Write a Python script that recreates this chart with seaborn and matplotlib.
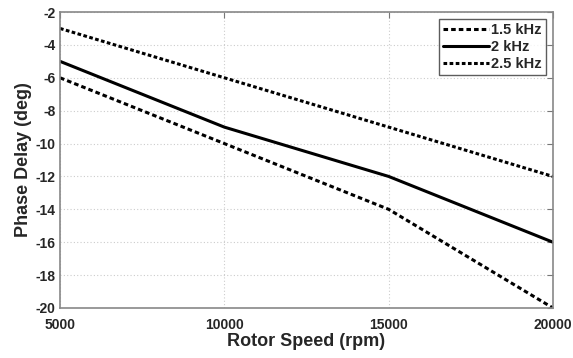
import matplotlib
matplotlib.use("Agg")
import matplotlib.pyplot as plt
import seaborn as sns
import pandas as pd

rotor_speed = [5000, 10000, 15000, 20000]
delay_15k = [-6, -10, -14, -20]
delay_2k = [-5, -9, -12, -16]
delay_25k = [-3, -6, -9, -12]
series_labels = ["1.5 kHz", "2 kHz", "2.5 kHz"]
x_ticks = [5000, 10000, 15000, 20000]
y_ticks = [-20, -18, -16, -14, -12, -10, -8, -6, -4, -2]

sns.set_style("white")
plt.rcParams["font.family"] = ["Liberation Sans", "DejaVu Sans"]
plt.rcParams["font.weight"] = "bold"

fig = plt.figure(figsize=(5.73, 3.58), dpi=100)
ax = fig.add_axes([60/573, 1 - 308/358, (553-60)/573, (308-12)/358])

styles = [(0, (1.5, 1.0)), "-", (0, (1.2, 0.8))]
for vals, lab, ls in zip([delay_15k, delay_2k, delay_25k], series_labels, styles):
    df = pd.DataFrame({"x": rotor_speed, "y": vals})
    sns.lineplot(data=df, x="x", y="y", ax=ax, color="black", linewidth=2.2,
                 linestyle=ls, label=lab)

ax.set_xlim(5000, 20000)
ax.set_ylim(-20, -2)
ax.set_xticks(x_ticks)
ax.set_yticks(y_ticks)
ax.set_xticklabels([str(t) for t in x_ticks], fontsize=10, fontweight="bold")
ax.set_yticklabels([str(t) for t in y_ticks], fontsize=10, fontweight="bold")
ax.tick_params(direction="in", length=4, color="#777777", top=True, right=True)
ax.tick_params(axis="x", pad=7)
ax.tick_params(axis="y", pad=3)
ax.grid(True, linestyle=(0, (1, 2)), color="#cccccc", linewidth=0.8)
for s in ax.spines.values():
    s.set_color("#888888")
    s.set_linewidth(1.2)
ax.set_xlabel("Rotor Speed (rpm)", fontsize=13, fontweight="bold", labelpad=1)
ax.set_ylabel("Phase Delay (deg)", fontsize=13, fontweight="bold", labelpad=3)

leg = ax.legend(loc="upper right", fontsize=10.5, frameon=True, fancybox=False,
                edgecolor="#333333", handlelength=3.1, handletextpad=0.2,
                borderpad=0.3, labelspacing=0.2, borderaxespad=0.45)
leg.get_frame().set_linewidth(1.0)
for t in leg.get_texts():
    t.set_fontweight("bold")

fig.savefig("out.png", dpi=100)
